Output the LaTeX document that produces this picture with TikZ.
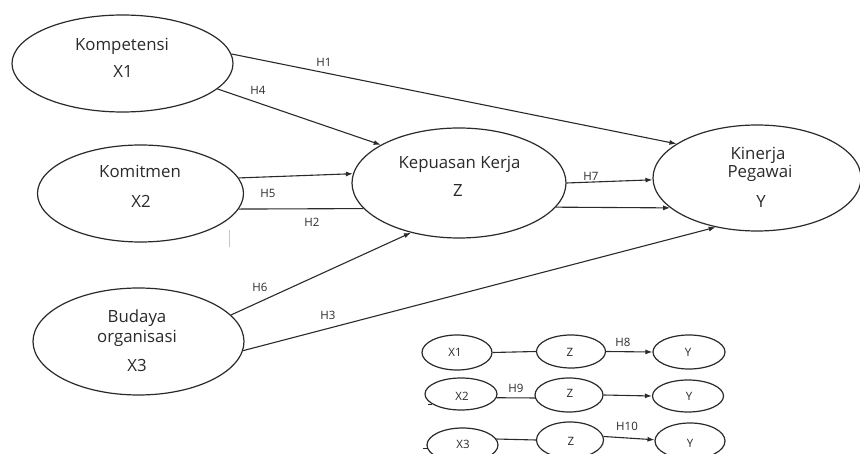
\documentclass[tikz,border=0pt]{standalone}
\usepackage{fontspec}
\setmainfont{Open Sans}
\usetikzlibrary{shapes.geometric,arrows.meta}
\definecolor{ink}{HTML}{2A2A2A}
\begin{document}
\begin{tikzpicture}[x=1pt,y=-1pt,
  ell/.style={draw=ink,line width=1.2pt,ellipse,inner sep=0pt,fill=white},
  big/.style={font=\fontsize{16.8}{19}\selectfont,text=ink,inner sep=0pt,anchor=base},
  lab/.style={font=\fontsize{11.5}{13}\selectfont,text=ink,inner sep=0pt,anchor=base},
  sm/.style={font=\fontsize{11.5}{13}\selectfont,text=ink,inner sep=0pt,anchor=base},
  conn/.style={draw=ink,line width=1.1pt},
  arr/.style={conn,-{Latex[length=7pt,width=5pt]}},
]
\useasboundingbox (0,0) rectangle (860,454);

% main ellipses
\node[ell,minimum width=221pt,minimum height=97pt] (X1) at (122.5,63.5) {};
\node[ell,minimum width=206pt,minimum height=97pt] (X2) at (140.5,193.5) {};
\node[ell,minimum width=211pt,minimum height=107pt] (X3) at (138.5,341.5) {};
\node[ell,minimum width=214pt,minimum height=110pt] (Z) at (459,183) {};
\node[ell,minimum width=208pt,minimum height=106pt] (Y) at (757,178) {};

% texts
\node[big] (tX1a) at (122,51) {Kompetensi};
\node[big] (tX1b) at (123,78) {X1};
\node[big] (tX2a) at (140,178) {Komitmen};
\node[big] (tX2b) at (141,208) {X2};
\node[big] (tX3a) at (137,323) {Budaya};
\node[big] (tX3b) at (137,343) {organisasi};
\node[big] (tX3c) at (137,372) {X3};
\node[big] (tZa) at (459.5,169) {Kepuasan Kerja};
\node[big] (tZb) at (458,197) {Z};
\node[big] (tYa) at (758,160) {Kinerja};
\node[big] (tYb) at (760,178) {Pegawai};
\node[big] (tYc) at (761,208) {Y};

% connectors
\draw[arr] (X1.5) -- (Y.157);
\draw[arr] (X1.-15) -- (Z.154);
\draw[arr] (X2.9) -- (Z.175);
\draw[conn] (X2.-9) -- (Z.-165);
\draw[arr] (Z.-14) -- (Y.199);
\draw[arr] (Z.east) -- (Y.181);
\draw[arr] (X3.16) -- (Z.226);
\draw[arr] (X3.-5) -- (Y.230);

% labels
\node[lab] (h1) at (324,67) {H1};
\node[lab] (h4) at (258,95) {H4};
\node[lab] (h5) at (268,198) {H5};
\node[lab] (h2) at (312,227) {H2};
\node[lab] (h7) at (591,181) {H7};
\node[lab] (h6) at (260,292) {H6};
\node[lab] (h3) at (328,320) {H3};

% stray mark
\coordinate (g1) at (229,230);
\coordinate (g2) at (229,247);
\draw[gray!45,line width=1pt] (g1) -- (g2);

% small diagram
\begin{scope}[every node/.append style={line width=1.1pt}]
\node[ell,minimum width=70pt,minimum height=35pt] (sX1) at (457,352.5) {};
\node[ell,minimum width=69pt,minimum height=33pt] (sZ1) at (571,351.5) {};
\node[ell,minimum width=72pt,minimum height=34pt] (sY1) at (689,352) {};
\node[ell,minimum width=72pt,minimum height=32pt] (sX2) at (461,394) {};
\node[ell,minimum width=68pt,minimum height=34pt] (sZ2) at (569,395) {};
\node[ell,minimum width=71pt,minimum height=32pt] (sY2) at (688,396) {};
\node[ell,minimum width=71pt,minimum height=34pt] (sX3) at (462.5,445) {};
\node[ell,minimum width=67pt,minimum height=36pt] (sZ3) at (570,440) {};
\node[ell,minimum width=70pt,minimum height=36pt] (sY3) at (690,441) {};
\end{scope}

\node[sm] (tsX1) at (455,357) {X1};
\node[sm] (tsZ1) at (570,357) {Z};
\node[sm] (tsY1) at (688,357) {Y};
\node[sm] (tsX2) at (462,400) {X2};
\node[sm] (tsZ2) at (570,398) {Z};
\node[sm] (tsY2) at (689,400) {Y};
\node[sm] (tsX3) at (463,448) {X3};
\node[sm] (tsZ3) at (571,446) {Z};
\node[sm] (tsY3) at (690,447) {Y};

\draw[conn] (sX1.east) -- (sZ1.west);
\draw[arr] (sZ1.east) -- (sY1.west);
\draw[conn] (sX2.-6) -- (sZ2.-175);
\draw[arr] (sZ2.east) -- (sY2.west);
\draw[conn] (sX3.10) -- (sZ3.west);
\draw[arr] (sZ3.6) -- (sY3.178);
\draw[conn] (sX2.-160) -- ++(-4,0);
\draw[conn] (sX3.-175) -- ++(-4,0);

\node[lab] (h8) at (623,347) {H8};
\node[lab] (h9) at (516,392) {H9};
\node[lab] (h10) at (627,430) {H10};
\end{tikzpicture}
\end{document}
